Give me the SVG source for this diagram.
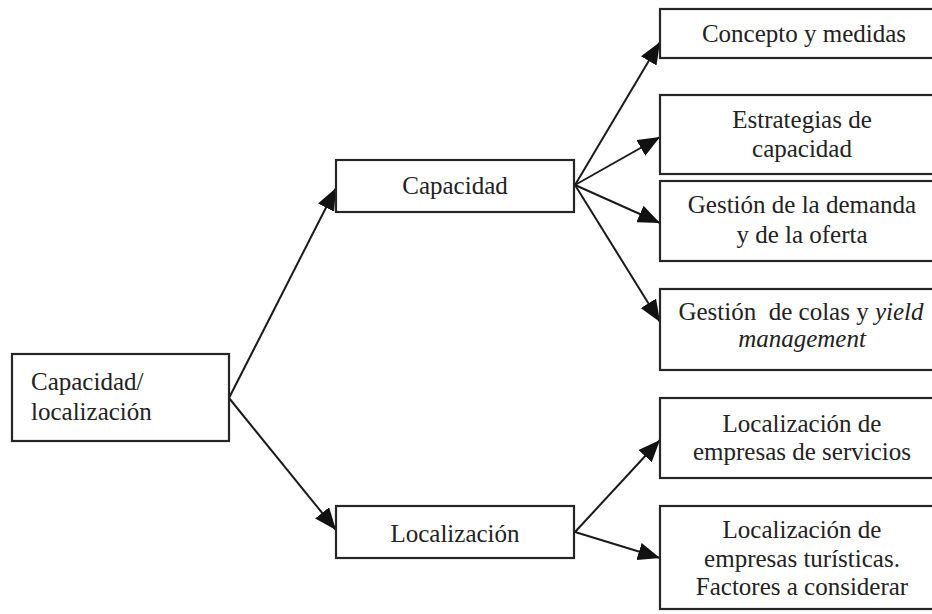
<svg xmlns="http://www.w3.org/2000/svg" width="932" height="614" viewBox="0 0 932 614">
  <style>
    .box { fill: #ffffff; stroke: #262626; stroke-width: 2.2; }
    .lbl { font-size: 25px; fill: #222222; }
    .mid { text-anchor: middle; }
    .it { font-style: italic; }
    .edge { stroke: #1a1a1a; stroke-width: 2; fill: none; marker-end: url(#arrow); }
  </style>
  <defs>
    <marker id="arrow" markerUnits="userSpaceOnUse" markerWidth="24" markerHeight="18" refX="22" refY="9" orient="auto">
      <path d="M0,0 L22,9 L0,18 z" fill="#111111"/>
    </marker>
  </defs>
  <rect x="0" y="0" width="932" height="614" fill="#ffffff"/>

  <!-- connectors -->
  <g id="connectors">
    <line class="edge" x1="229" y1="398" x2="336" y2="188"/>
    <line class="edge" x1="229" y1="398" x2="336" y2="530"/>
    <line class="edge" x1="575" y1="185" x2="660" y2="42"/>
    <line class="edge" x1="575" y1="185" x2="660" y2="137"/>
    <line class="edge" x1="575" y1="185" x2="660" y2="223"/>
    <line class="edge" x1="575" y1="185" x2="660" y2="322"/>
    <line class="edge" x1="575" y1="532" x2="660" y2="440"/>
    <line class="edge" x1="575" y1="532" x2="660" y2="558"/>
  </g>

  <g font-family="'Liberation Serif', 'DejaVu Serif', serif">
  <!-- root -->
  <g id="root">
    <rect class="box" x="12" y="354" width="217" height="87"/>
    <text class="lbl" x="31" y="390">Capacidad/</text>
    <text class="lbl" x="31" y="420">localización</text>
  </g>

  <!-- second level -->
  <g id="capacidad">
    <rect class="box" x="336" y="160" width="238" height="52"/>
    <text class="lbl mid" x="455" y="194">Capacidad</text>
  </g>
  <g id="localizacion">
    <rect class="box" x="336" y="506" width="238" height="52"/>
    <text class="lbl mid" x="455" y="542">Localización</text>
  </g>

  <!-- third level -->
  <g id="concepto">
    <rect class="box" x="660" y="9" width="290" height="49"/>
    <text class="lbl mid" x="804" y="42">Concepto y medidas</text>
  </g>
  <g id="estrategias">
    <rect class="box" x="660" y="95" width="290" height="79"/>
    <text class="lbl mid" x="802" y="128">Estrategias de</text>
    <text class="lbl mid" x="802" y="157">capacidad</text>
  </g>
  <g id="gestion-demanda">
    <rect class="box" x="660" y="181" width="290" height="80"/>
    <text class="lbl mid" x="802" y="213">Gestión de la demanda</text>
    <text class="lbl mid" x="802" y="243">y de la oferta</text>
  </g>
  <g id="gestion-colas">
    <rect class="box" x="660" y="289" width="290" height="81"/>
    <text class="lbl mid" x="801" y="320" xml:space="preserve">Gestión  de colas y <tspan class="it">yield</tspan></text>
    <text class="lbl mid it" x="802" y="347">management</text>
  </g>
  <g id="loc-servicios">
    <rect class="box" x="660" y="398" width="290" height="80"/>
    <text class="lbl mid" x="802" y="432">Localización de</text>
    <text class="lbl mid" x="802" y="460">empresas de servicios</text>
  </g>
  <g id="loc-turisticas">
    <rect class="box" x="660" y="506" width="290" height="103"/>
    <text class="lbl mid" x="802" y="538">Localización de</text>
    <text class="lbl mid" x="802" y="567">empresas turísticas.</text>
    <text class="lbl mid" x="802" y="595">Factores a considerar</text>
  </g>
  </g>
</svg>
